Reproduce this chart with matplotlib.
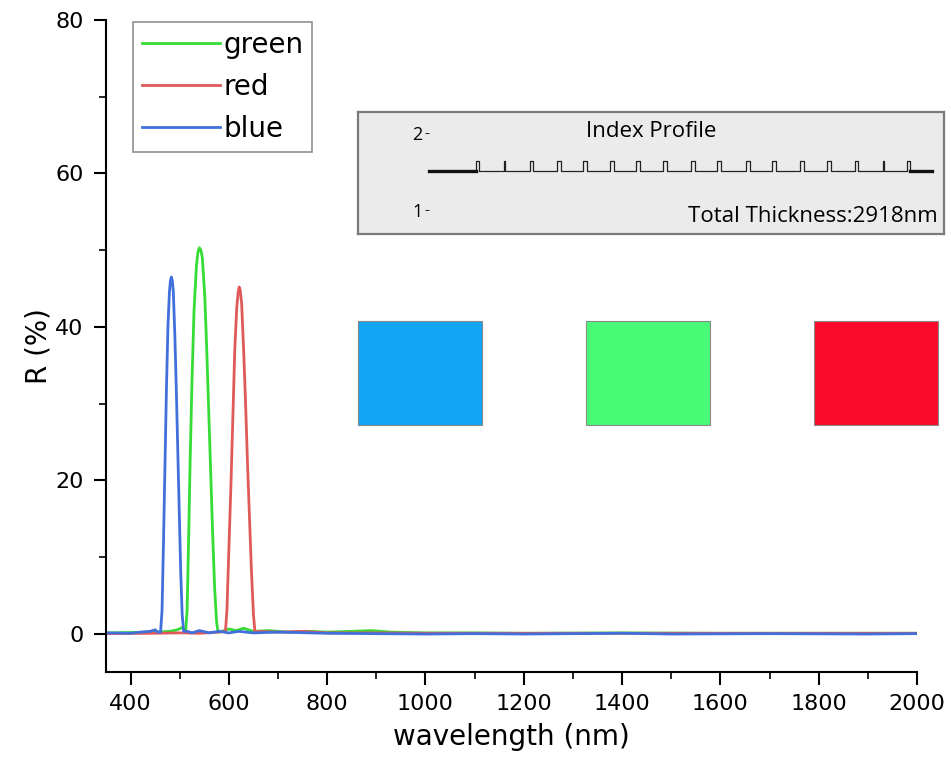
import numpy as np
import matplotlib.pyplot as plt
from matplotlib.patches import Rectangle
from matplotlib.ticker import MultipleLocator

# ---------------------------
# Reflectance spectra
# ---------------------------
green_wl = [350, 400, 450, 480, 495, 505, 510,
            512, 515, 518, 521, 525, 529, 534, 537, 540, 543, 546, 551, 555, 559, 563, 567,
            571, 575, 578,
            585, 600, 615, 630, 650, 680, 720, 760, 800, 850, 890, 930, 1000, 1100, 1200, 1400,
            1600, 1800, 2000]
green_R = [0.1, 0.15, 0.2, 0.3, 0.5, 0.8, 0.5,
           0.3, 3, 12, 22, 33, 42, 48, 49.7, 50.3, 50.0, 49, 44, 37, 29, 21, 13,
           6, 1.5, 0.2,
           0.3, 0.6, 0.4, 0.7, 0.3, 0.4, 0.2, 0.3, 0.2, 0.3, 0.4, 0.2, 0.1, 0.1, 0.05, 0.1,
           0.05, 0.05, 0.05]

red_wl = [350, 450, 500, 540, 580,
          593, 596, 600, 604, 608, 612, 616, 619, 621, 623, 626, 630, 634, 638, 642, 646,
          650, 653,
          660, 700, 750, 800, 900, 1000, 2000]
red_R = [0.0, 0.05, 0.1, 0.05, 0.2,
         0.3, 3, 11, 19, 28, 37, 42.5, 44.6, 45.2, 44.8, 43, 37, 30, 22, 15, 8,
         2.5, 0.2,
         0.3, 0.2, 0.3, 0.1, 0.1, 0.05, 0.05]

blue_wl = [350, 400, 420, 440, 450, 455,
           461, 464, 467, 470, 473, 476, 479, 481, 483, 485, 487, 490, 493, 496, 499, 502,
           505, 508,
           515, 525, 540, 560, 580, 600, 620, 650, 700, 800, 900, 1000, 1100, 1200, 1400,
           1500, 1700, 1900, 2000]
blue_R = [0.1, 0.05, 0.2, 0.3, 0.5, 0.2,
          0.2, 3, 12, 22, 32, 40, 44.5, 46.0, 46.5, 46.0, 44.5, 39, 32, 24, 16, 8,
          2.5, 0.3,
          0.3, 0.1, 0.4, 0.1, 0.3, 0.1, 0.3, 0.1, 0.2, 0.05, 0.0, -0.05, 0.0, -0.05, 0.05,
          -0.05, 0.0, -0.05, 0.0]

# index profile: alternating high / low layers (nm)
high_index = 1.64
low_index = 1.50
high_layers = [20, 7, 20, 27, 27, 27, 27, 27, 27, 27, 27, 27, 27, 27, 20, 7, 19]
low_layers = [168, 168, 161, 148, 155, 148, 155, 161, 148, 168, 148, 161, 155, 161, 168, 155]
total_thickness = 2918

square_colors = ["#10a6f4", "#48fa76", "#f90a2a"]

plt.rcParams['font.family'] = ['DejaVu Sans']
fig = plt.figure(figsize=(9.51, 7.63), dpi=100)
ax = fig.add_axes([106 / 951, 1 - 672 / 763, 811 / 951, 652 / 763])

ax.plot(green_wl, green_R, color="#35dc35", lw=2, label="green")
ax.plot(red_wl, red_R, color="#e05a5a", lw=2, label="red")
ax.plot(blue_wl, blue_R, color="#4170dc", lw=2, label="blue")

ax.set_xlim(350, 2000)
ax.set_ylim(-5, 80)
ax.spines["top"].set_visible(False)
ax.spines["right"].set_visible(False)
for s in ("left", "bottom"):
    ax.spines[s].set_linewidth(1.5)
ax.xaxis.set_major_locator(MultipleLocator(200))
ax.xaxis.set_minor_locator(MultipleLocator(100))
ax.yaxis.set_major_locator(MultipleLocator(20))
ax.yaxis.set_minor_locator(MultipleLocator(10))
ax.tick_params(which="major", direction="out", length=9, width=1.5, labelsize=16, pad=7)
ax.tick_params(which="minor", direction="out", length=5, width=1.2)
ax.set_xlabel("wavelength (nm)", fontsize=20, labelpad=6)
ax.set_ylabel("R (%)", fontsize=20, labelpad=2)

leg = ax.legend(loc="upper left", bbox_to_anchor=(0.033, 0.997), borderaxespad=0,
                fontsize=20, handlelength=2.8, handletextpad=0.12, labelspacing=0.5,
                fancybox=False, framealpha=1, edgecolor="#909090", borderpad=0.33)
leg.get_frame().set_linewidth(1.2)

# colour swatches
for i, c in enumerate(square_colors):
    x0 = (358 + i * 228) / 951
    fig.patches.append(Rectangle((x0, 1 - 425 / 763), 124 / 951, 104 / 763,
                                 transform=fig.transFigure, facecolor=c,
                                 edgecolor="#8a8a8a", lw=0.8))

# inset box
box = fig.add_axes([358 / 951, 1 - 234 / 763, 586 / 951, 122 / 763])
box.set_facecolor("#ebebeb")
box.set_xticks([])
box.set_yticks([])
for s in box.spines.values():
    s.set_color("#7a7a7a")
    s.set_linewidth(1.6)
box.text(0.5, 0.84, "Index Profile", transform=box.transAxes, ha="center", va="center",
         fontsize=16, family="Open Sans")
box.text(0.99, 0.14, "Total Thickness:%dnm" % total_thickness, transform=box.transAxes,
         ha="right", va="center", fontsize=16, family="Open Sans")

ins = fig.add_axes([425 / 951, 1 - 234 / 763, 510 / 951, 122 / 763])
ins.patch.set_alpha(0)
for s in ins.spines.values():
    s.set_visible(False)
edges = [0]
levels = []
for i, h in enumerate(high_layers):
    edges.append(edges[-1] + h)
    levels.append(high_index)
    if i < len(low_layers):
        edges.append(edges[-1] + low_layers[i])
        levels.append(low_index)
xs = [edges[0]]
ys = [low_index]
for k, lev in enumerate(levels):
    xs += [edges[k], edges[k + 1]]
    ys += [lev, lev]
xs.append(edges[-1])
ys.append(low_index)
ins.plot(xs, ys, color="#222222", lw=0.9)
ins.plot([-316, 0], [low_index, low_index], color="#111111", lw=2.4)
ins.plot([edges[-1], edges[-1] + 148], [low_index, low_index], color="#111111", lw=2.4)
ins.set_xlim(-343, 3086)
ins.set_ylim(0.69, 2.27)
ins.set_xticks([])
ins.set_yticks([1, 2])
ins.set_yticklabels(["1", "2"])
ins.tick_params(axis="y", direction="in", length=3, width=0.6, pad=2, labelsize=13,
                labelfontfamily="Open Sans")

fig.savefig("out.png", dpi=100)
